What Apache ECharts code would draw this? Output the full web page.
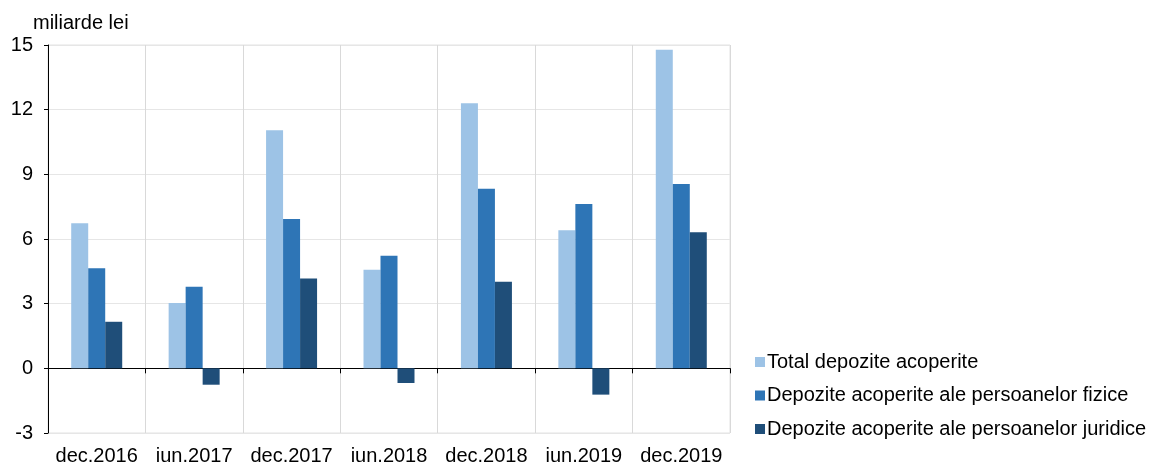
<!DOCTYPE html>
<html>
<head>
<meta charset="utf-8">
<script src="https://cdn.jsdelivr.net/npm/echarts@6/dist/echarts.min.js"></script>
<style>
  html, body { margin: 0; padding: 0; background: #fff; }
  #main { width: 1150px; height: 466px; }
</style>
</head>
<body>
<div id="main"></div>
<script>
var categories = ['dec.2016', 'iun.2017', 'dec.2017', 'iun.2018', 'dec.2018', 'iun.2019', 'dec.2019'];
var total_dep = [6.73, 3.03, 11.05, 4.57, 12.3, 6.41, 14.78];
var fizice_dep = [4.64, 3.79, 6.93, 5.22, 8.33, 7.62, 8.55];
var juridice_dep = [2.16, -0.76, 4.17, -0.68, 4.02, -1.22, 6.31];
var y_ticks = [-3, 0, 3, 6, 9, 12, 15];

var font = 'Liberation Sans, Arial, sans-serif';

var myChart = echarts.init(document.getElementById('main'));

var option = {
    animation: false,
    textStyle: { fontFamily: font },
    grid: {
        left: 48,
        right: 420,
        top: 45,
        bottom: 33,
        show: true,
        borderColor: '#e3e3e3',
        borderWidth: 1
    },
    legend: {
        orient: 'vertical',
        left: 750,
        top: 347,
        itemWidth: 10,
        itemHeight: 10,
        itemGap: 13.5,
        icon: 'rect',
        textStyle: { fontSize: 20, color: '#000', fontFamily: font, padding: [0, 0, 0, -3] },
        data: ['Total depozite acoperite', 'Depozite acoperite ale persoanelor fizice', 'Depozite acoperite ale persoanelor juridice']
    },
    xAxis: [
        {
            // etichete jos + separatoare verticale
            type: 'category',
            data: categories,
            position: 'bottom',
            axisLine: { show: false, onZero: false },
            axisTick: { show: false },
            splitLine: { show: true, interval: 0, lineStyle: { color: '#d9d9d9', width: 1 } },
            axisLabel: { color: '#000', fontSize: 20, margin: 13, interval: 0, hideOverlap: false, fontFamily: font }
        },
        {
            // linia neagra de la zero
            type: 'category',
            data: categories,
            position: 'bottom',
            axisLine: { show: true, onZero: true, lineStyle: { color: '#000', width: 1 } },
            axisTick: { show: true, interval: 0, length: 5, lineStyle: { color: '#000' } },
            axisLabel: { show: false, interval: 0 },
            splitLine: { show: false }
        }
    ],
    yAxis: {
        type: 'value',
        min: y_ticks[0],
        max: y_ticks[y_ticks.length - 1],
        interval: 3,
        name: 'miliarde lei',
        nameLocation: 'end',
        nameGap: 12,
        nameTextStyle: { color: '#000', fontSize: 20, align: 'left', padding: [0, 0, 0, -15], fontFamily: font },
        axisLine: { show: true, lineStyle: { color: '#000', width: 1 } },
        axisTick: { show: true, length: 4, lineStyle: { color: '#000' } },
        axisLabel: { color: '#000', fontSize: 20, margin: 15, fontFamily: font },
        splitLine: { show: true, lineStyle: { color: '#e6e6e6', width: 1 } }
    },
    series: [
        {
            name: 'Total depozite acoperite',
            type: 'bar',
            barWidth: 17,
            barGap: '0%',
            itemStyle: { color: '#9dc3e6' },
            data: total_dep
        },
        {
            name: 'Depozite acoperite ale persoanelor fizice',
            type: 'bar',
            barWidth: 17,
            barGap: '0%',
            itemStyle: { color: '#2e75b6' },
            data: fizice_dep
        },
        {
            name: 'Depozite acoperite ale persoanelor juridice',
            type: 'bar',
            barWidth: 17,
            barGap: '0%',
            itemStyle: { color: '#1f4e79' },
            data: juridice_dep
        }
    ]
};
myChart.setOption(option);
</script>
</body>
</html>
